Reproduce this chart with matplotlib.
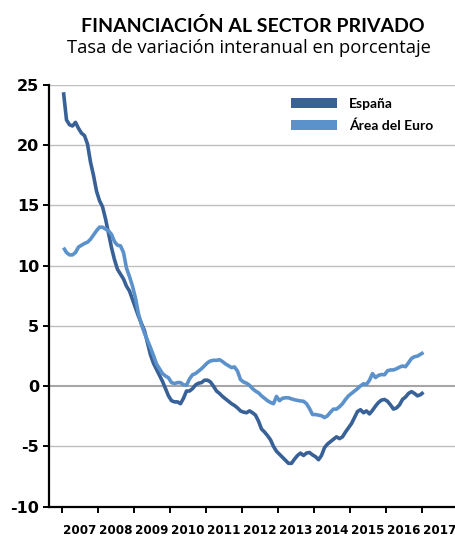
import matplotlib
matplotlib.use("Agg")
import matplotlib.pyplot as plt
from matplotlib.patches import Patch
import numpy as np

plt.rcParams["axes.unicode_minus"] = False

# ---- data (monthly, Jan 2007 .. Jan 2017) ----
start_year = 2007
spain = [
    24.4, 22.1, 21.7, 21.6, 21.9, 21.4, 21.0, 20.8, 20.1, 18.6, 17.5, 16.2,
    15.4, 14.9, 13.9, 12.7, 11.5, 10.5, 9.7, 9.3, 8.9, 8.3, 7.9, 7.2,
    6.5, 5.8, 5.2, 4.6, 3.6, 2.6, 1.9, 1.4, 0.9, 0.4, -0.2, -0.8,
    -1.2, -1.3, -1.3, -1.45, -1.0, -0.4, -0.4, -0.2, 0.1, 0.25, 0.3, 0.5,
    0.5, 0.35, 0.0, -0.4, -0.6, -0.85, -1.05, -1.25, -1.45, -1.6, -1.8, -2.05,
    -2.15, -2.2, -2.05, -2.2, -2.4, -2.9, -3.55, -3.8, -4.1, -4.45, -5.0, -5.4,
    -5.65, -5.9, -6.15, -6.4, -6.4, -6.05, -5.75, -5.55, -5.75, -5.55, -5.5, -5.7,
    -5.85, -6.1, -5.75, -5.1, -4.8, -4.6, -4.4, -4.2, -4.35, -4.2, -3.8, -3.45,
    -3.1, -2.6, -2.1, -1.95, -2.2, -2.05, -2.3, -2.0, -1.65, -1.35, -1.15, -1.1,
    -1.25, -1.55, -1.9, -1.8, -1.55, -1.1, -0.9, -0.6, -0.45, -0.6, -0.8, -0.7,
    -0.5,
]
euro = [
    11.5, 11.1, 10.9, 10.9, 11.1, 11.55, 11.7, 11.85, 11.95, 12.2, 12.55, 12.9,
    13.2, 13.2, 13.05, 12.9, 12.6, 12.0, 11.7, 11.65, 11.1, 9.8, 9.1, 8.3,
    7.3, 6.0, 5.1, 4.4, 3.8, 3.2, 2.55, 1.85, 1.45, 1.05, 0.85, 0.7,
    0.3, 0.22, 0.3, 0.3, 0.12, 0.08, 0.6, 0.95, 1.05, 1.25, 1.45, 1.7,
    1.95, 2.1, 2.15, 2.15, 2.2, 2.05, 1.85, 1.7, 1.55, 1.6, 1.25, 0.55,
    0.35, 0.25, 0.08, -0.2, -0.4, -0.55, -0.8, -1.0, -1.2, -1.35, -1.45, -0.85,
    -1.2, -1.0, -0.96, -0.96, -1.05, -1.12, -1.18, -1.22, -1.25, -1.45, -1.85, -2.35,
    -2.35, -2.4, -2.45, -2.6, -2.45, -2.15, -1.9, -1.9, -1.7, -1.45, -1.1, -0.8,
    -0.6, -0.4, -0.2, 0.03, 0.2, 0.15, 0.5, 1.05, 0.72, 0.9, 0.97, 0.95,
    1.28, 1.35, 1.35, 1.45, 1.58, 1.68, 1.62, 1.95, 2.3, 2.45, 2.5, 2.65,
    2.8,
]
year_labels = ["2007", "2008", "2009", "2010", "2011", "2012",
               "2013", "2014", "2015", "2016", "2017"]
series_names = ["España", "Área del Euro"]
y_ticks = [-10, -5, 0, 5, 10, 15, 20, 25]

title = "FINANCIACIÓN AL SECTOR PRIVADO"
subtitle = "Tasa de variación interanual en porcentaje"

# ---- styling ----
c_spain = "#386197"
c_euro = "#5B92CB"
W, H = 456, 536
fig = plt.figure(figsize=(W / 100, H / 100), dpi=100)
ax = fig.add_axes([49 / W, 1 - 506.7 / H, (W - 49) / W, (506.7 - 85) / H])

n = len(spain)
x = start_year + (np.arange(n) + 0.5) / 12.0

ax.plot(x, spain, color=c_spain, lw=2.6, solid_joinstyle="round",
        solid_capstyle="butt", zorder=3)
ax.plot(x, euro, color=c_euro, lw=2.6, solid_joinstyle="round",
        solid_capstyle="butt", zorder=4)

ax.set_xlim(start_year + (49 - 62) / 36.0, start_year + (456 - 62) / 36.0)
ax.set_ylim(-10, 25)

years = [int(s) for s in year_labels]
ax.set_xticks(years)
ax.set_xticklabels([])
ax.set_xticks([y + 0.5 for y in years], minor=True)
ax.set_xticklabels(year_labels, minor=True, family="DejaVu Sans",
                   fontstretch="condensed", fontweight="bold", fontsize=9.5)
ax.tick_params(axis="x", which="major", direction="out", length=4,
               width=1.4, color="black")
ax.tick_params(axis="x", which="minor", length=0, pad=12.5)

ax.set_yticks(y_ticks)
ax.set_yticklabels([str(v) for v in y_ticks], family="DejaVu Sans",
                   fontweight="bold", fontsize=11.5)
ax.tick_params(axis="y", direction="out", length=4, width=1.4, pad=3)

for v in y_ticks:
    if v == -10:
        continue
    if v == 0:
        ax.axhline(v, color="#A6A6A6", lw=1.5, zorder=1)
    else:
        ax.axhline(v, color="#BFBFBF", lw=1.0, zorder=1)

for s in ["top", "right"]:
    ax.spines[s].set_visible(False)
for s in ["left", "bottom"]:
    ax.spines[s].set_linewidth(1.6)
    ax.spines[s].set_color("black")

handles = [Patch(facecolor=c_spain, edgecolor="none"),
           Patch(facecolor=c_euro, edgecolor="none")]
leg = ax.legend(handles, series_names, loc="upper left",
                bbox_to_anchor=((291.5 - 49) / (W - 49), 1 - (98 - 85) / (506.7 - 85)),
                frameon=False, handlelength=3.28, handleheight=0.72,
                handletextpad=0.85, labelspacing=0.68, borderaxespad=0,
                borderpad=0,
                prop={"family": "Lato", "weight": "bold", "size": 10})

fig.text(253 / W, 1 - 32 / H, title, ha="center", va="baseline",
         family="Lato", fontweight="bold", fontsize=14.0)
fig.text(249 / W, 1 - 53.3 / H, subtitle, ha="center", va="baseline",
         family="Open Sans", fontsize=13.2)

fig.savefig("out.png", dpi=100)
